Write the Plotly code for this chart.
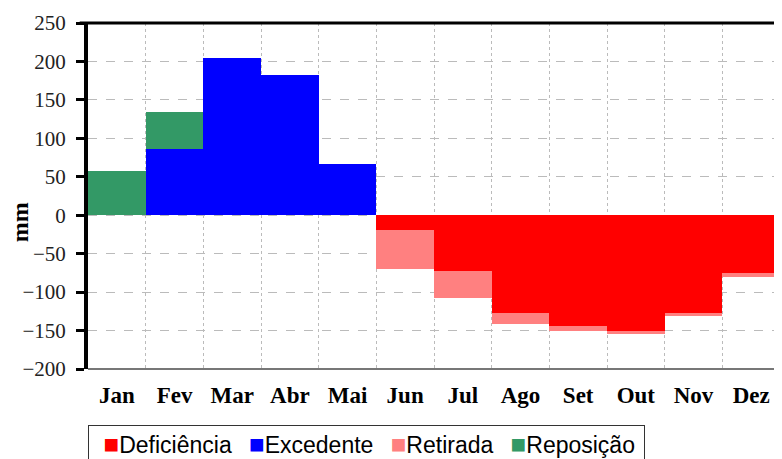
import plotly.graph_objects as go

months = ["Jan", "Fev", "Mar", "Abr", "Mai", "Jun", "Jul", "Ago", "Set", "Out", "Nov", "Dez"]
deficiencia = [0, 0, 0, 0, 0, -19, -72, -127, -144, -151, -127, -75]
excedente = [0, 86, 205, 182, 66, 0, 0, 0, 0, 0, 0, 0]
retirada = [0, 0, 0, 0, 0, -51, -36, -14, -7, -4, -4, -5]
reposicao = [57, 48, 0, 0, 0, 0, 0, 0, 0, 0, 0, 0]
y_ticks = [250, 200, 150, 100, 50, 0, -50, -100, -150, -200]

x = list(range(len(months)))
series = [
    ("Deficiência", deficiencia, "#FF0000"),
    ("Excedente", excedente, "#0000FF"),
    ("Retirada", retirada, "#FF8080"),
    ("Reposição", reposicao, "#339966"),
]

fig = go.Figure()
for name, vals, color in series:
    fig.add_trace(go.Bar(x=x, y=vals, name=name, width=1.0, showlegend=False,
                         marker=dict(color=color, line=dict(width=0))))

serif = "Liberation Serif, Times New Roman, serif"
sans = "Liberation Sans, Arial, sans-serif"

# page body adds an 8px offset; margins compensate for it
fig.update_layout(
    width=782, height=459,
    barmode="relative", bargap=0,
    plot_bgcolor="white", paper_bgcolor="white",
    margin=dict(l=80, r=10, t=15, b=98),
    showlegend=False,
)
fig.update_xaxes(
    range=[-0.5, 11.5], tickmode="array", tickvals=x, ticktext=months,
    showgrid=False, zeroline=False, ticks="", automargin=False,
    tickfont=dict(family=serif, size=23, color="black", weight="bold"),
    ticklabelstandoff=10,
    showline=False,
    minor=dict(tickmode="array", tickvals=[i + 0.5 for i in range(11)], showgrid=True,
               gridcolor="#BBBBBB", griddash="dot", gridwidth=1, ticks=""),
)
fig.update_yaxes(
    range=[-200, 250], tickmode="array", tickvals=y_ticks,
    showgrid=True, gridcolor="#BBBBBB", griddash="dash", gridwidth=1,
    zeroline=False, ticks="outside", ticklen=8, tickwidth=3, tickcolor="black",
    showline=True, linecolor="black", linewidth=4, automargin=False,
    tickfont=dict(family=serif, size=21, color="#222222"),
    ticklabelstandoff=6,
)
# frame
fig.add_shape(type="line", xref="paper", yref="paper", x0=0, x1=1, y0=0, y1=0,
              line=dict(color="#777777", width=2))
fig.add_shape(type="line", xref="paper", yref="paper", x0=1, x1=1, y0=0, y1=1,
              line=dict(color="#777777", width=2))
fig.add_shape(type="line", xref="paper", yref="paper", x0=-0.012, x1=1, y0=1, y1=1,
              line=dict(color="black", width=3))

# y-axis title
fig.add_annotation(text="<b>mm</b>", xref="paper", yref="paper", x=-0.098, y=0.425,
                   xanchor="center", yanchor="middle", textangle=-90, showarrow=False,
                   font=dict(family=serif, size=24, color="black"))

# legend box built from the series names/colours
parts = []
for name, _, color in series:
    parts.append(f"<span style='color:{color};font-size:26px'>\u25a0</span>{name}")
legend_text = "\u2002" + "\u2002\u2005".join(parts)
fig.add_annotation(text=legend_text, xref="paper", yref="paper", x=0, y=-0.162,
                   xanchor="left", yanchor="top", showarrow=False, align="left",
                   width=549, bordercolor="#333333", borderwidth=1, borderpad=3,
                   font=dict(family=sans, size=23, color="black"))

fig.write_html("out.html")
